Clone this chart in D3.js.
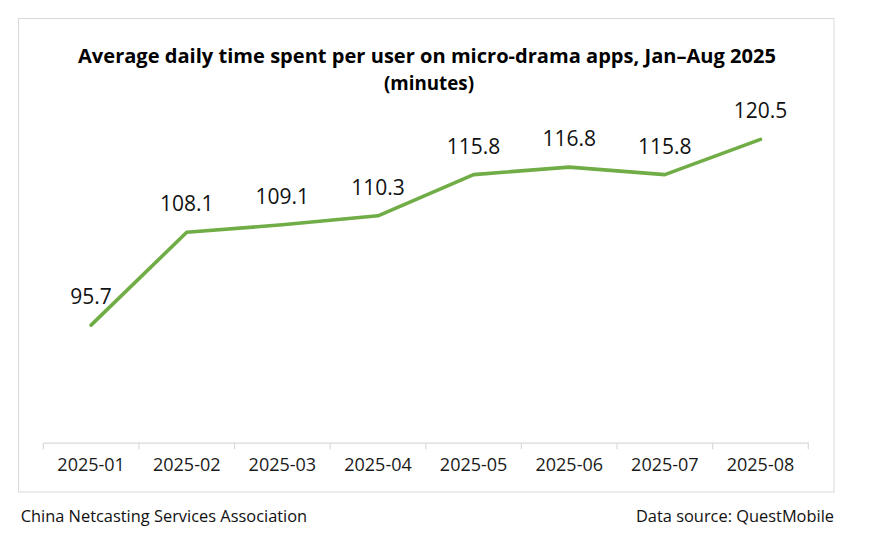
<!DOCTYPE html>
<html>
<head>
<meta charset="utf-8">
<script src="https://cdn.jsdelivr.net/npm/d3@7"></script>
<style>
  html, body { margin: 0; padding: 0; background: #fff; }
  svg { display: block; }
  text { font-family: "Open Sans", "Noto Sans", sans-serif; }
</style>
</head>
<body>
<svg id="chart" width="872" height="552"></svg>
<script>
// ---- Data ----
const months = ["2025-01","2025-02","2025-03","2025-04","2025-05","2025-06","2025-07","2025-08"];
const minutes = [95.7, 108.1, 109.1, 110.3, 115.8, 116.8, 115.8, 120.5];
const titleLines = ["Average daily time spent per user on micro-drama apps, Jan\u2013Aug 2025", "(minutes)"];
const footerLeft = "China Netcasting Services Association";
const footerRight = "Data source: QuestMobile";

const data = months.map((m, i) => ({ month: m, value: minutes[i] }));

const svg = d3.select("#chart");

// frame
svg.append("rect")
  .attr("x", 18.5).attr("y", 18.5)
  .attr("width", 815.5).attr("height", 473.5)
  .attr("fill", "#fff")
  .attr("stroke", "#d9d9d9").attr("stroke-width", 1);

function fit(sel, target) {
  const n = sel.node();
  const w = n.getComputedTextLength();
  if (w > 0 && Math.abs(w - target) / target > 0.01) {
    sel.attr("textLength", target).attr("lengthAdjust", "spacingAndGlyphs");
  }
}

// title
const t1 = svg.append("text")
  .attr("x", 427).attr("y", 63)
  .attr("text-anchor", "middle")
  .attr("font-weight", "bold").attr("font-size", 19.6)
  .attr("fill", "#000")
  .text(titleLines[0]);
fit(t1, 698);
const t2 = svg.append("text")
  .attr("x", 429).attr("y", 90)
  .attr("text-anchor", "middle")
  .attr("font-weight", "bold").attr("font-size", 19.6)
  .attr("fill", "#000")
  .text(titleLines[1]);
fit(t2, 90);

// scales
const x = d3.scaleBand().domain(months).range([43.3, 808.3]).padding(0);
const y = d3.scaleLinear().domain([80, 125]).range([442.7, 105.7]);

// axis
const axisG = svg.append("g").attr("transform", "translate(0,442.7)");
const axis = d3.axisBottom(x).tickSize(0).tickPadding(28.5);
axisG.call(axis);
axisG.select(".domain").attr("stroke", "#d9d9d9").attr("stroke-width", 1.2);
axisG.selectAll(".tick text")
  .attr("font-family", "'Open Sans', sans-serif")
  .attr("font-size", 18).attr("fill", "#1a1a1a")
  .attr("dy", 0);
// band-boundary ticks
const bounds = months.map(m => x(m)).concat([x(months[months.length - 1]) + x.bandwidth()]);
axisG.selectAll(".bound").data(bounds).enter().append("line")
  .attr("class", "bound")
  .attr("x1", d => d).attr("x2", d => d)
  .attr("y1", 0).attr("y2", 6.5)
  .attr("stroke", "#d9d9d9").attr("stroke-width", 1.2);

// line
const line = d3.line()
  .x(d => x(d.month) + x.bandwidth() / 2)
  .y(d => y(d.value));
svg.append("path")
  .datum(data)
  .attr("d", line)
  .attr("fill", "none")
  .attr("stroke", "#70AD47")
  .attr("stroke-width", 3.6)
  .attr("stroke-linejoin", "round")
  .attr("stroke-linecap", "round");

// value labels
svg.selectAll(".val").data(data).enter().append("text")
  .attr("class", "val")
  .attr("x", d => x(d.month) + x.bandwidth() / 2)
  .attr("y", d => y(d.value) - 21)
  .attr("text-anchor", "middle")
  .attr("font-size", 21)
  .attr("fill", "#111")
  .text(d => d.value.toFixed(1));

// footer
const fl = svg.append("text")
  .attr("x", 20.7).attr("y", 521.5)
  .attr("font-size", 16.4).attr("fill", "#111")
  .text(footerLeft);
fit(fl, 288);
const fr = svg.append("text")
  .attr("x", 834).attr("y", 521.5)
  .attr("text-anchor", "end")
  .attr("font-size", 16.4).attr("fill", "#111")
  .text(footerRight);
fit(fr, 200);
</script>
</body>
</html>
